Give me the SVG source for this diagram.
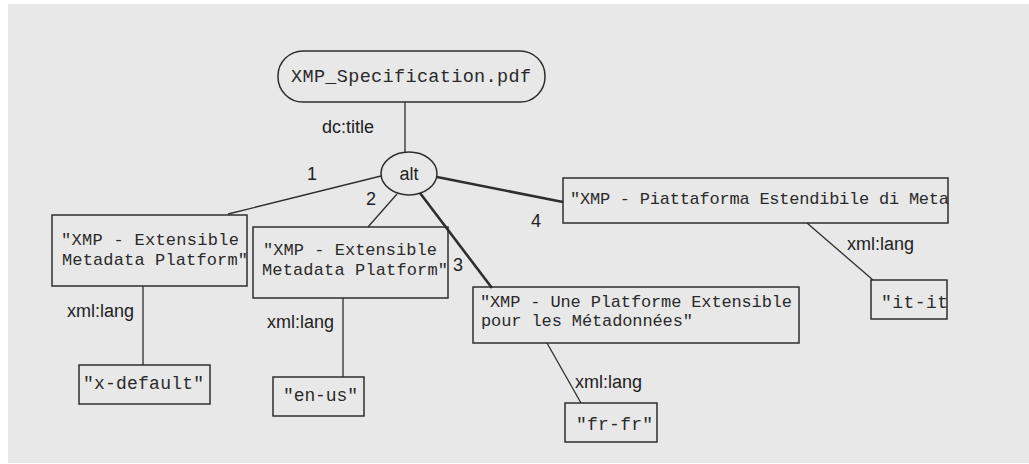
<svg xmlns="http://www.w3.org/2000/svg" width="1029" height="464" viewBox="0 0 1029 464">
  <style>
    .bg { fill: #e8e8e8; }
    .box { fill: none; stroke: #2e2e2e; stroke-width: 1.5; }
    .edge { fill: none; stroke: #2e2e2e; stroke-width: 1.3; }
    .edge.bold { stroke-width: 2.6; }
    .mono { font-family: "Liberation Mono", "Courier New", monospace; font-size: 17px; fill: #2a2a2a; }
    .mono.big { font-size: 18px; }
    .lbl { font-family: "Liberation Sans", Arial, sans-serif; font-size: 18px; fill: #222; }
  </style>

  <rect class="bg" x="8" y="4" width="1021" height="459"/>

  <!-- connectors and their labels -->
  <g id="connectors">
    <line class="edge" x1="405" y1="102" x2="405" y2="152"/>
    <line class="edge" x1="381" y1="176" x2="228" y2="214"/>
    <line class="edge" x1="397" y1="194" x2="368" y2="227"/>
    <line class="edge bold" x1="420" y1="193" x2="492" y2="288"/>
    <line class="edge bold" x1="437" y1="177" x2="563" y2="202"/>
    <line class="edge" x1="143" y1="286" x2="143" y2="365"/>
    <line class="edge" x1="343" y1="298" x2="343" y2="377"/>
    <line class="edge" x1="547" y1="343" x2="581" y2="403"/>
    <line class="edge" x1="807" y1="223" x2="873" y2="280"/>

    <text class="lbl" x="322" y="133">dc:title</text>
    <text class="lbl" x="307" y="180">1</text>
    <text class="lbl" x="366" y="205">2</text>
    <text class="lbl" x="453" y="271">3</text>
    <text class="lbl" x="531" y="227">4</text>
    <text class="lbl" x="67" y="317">xml:lang</text>
    <text class="lbl" x="267" y="328">xml:lang</text>
    <text class="lbl" x="575" y="388">xml:lang</text>
    <text class="lbl" x="847" y="250">xml:lang</text>
  </g>

  <g id="resource">
    <rect class="box" x="278" y="51" width="267" height="51" rx="25" ry="25"/>
    <text class="mono" x="291" y="82" style="font-size:18.5px" textLength="240">XMP_Specification.pdf</text>
  </g>

  <g id="alt">
    <ellipse class="box" cx="409" cy="173.5" rx="28" ry="21.5"/>
    <text class="lbl" x="409" y="180" text-anchor="middle">alt</text>
  </g>

  <g id="item-1">
    <rect class="box" x="52" y="215" width="195" height="71"/>
    <text class="mono" x="61" y="245" textLength="178">"XMP - Extensible</text>
    <text class="mono" x="62" y="265" textLength="186">Metadata Platform"</text>
  </g>

  <g id="item-2">
    <rect class="box" x="253" y="227" width="195" height="71"/>
    <text class="mono" x="263" y="255" textLength="174">"XMP - Extensible</text>
    <text class="mono" x="262" y="275" textLength="186">Metadata Platform"</text>
  </g>

  <g id="item-3">
    <rect class="box" x="473" y="287" width="326" height="56"/>
    <text class="mono" x="480" y="307" textLength="312">"XMP - Une Platforme Extensible</text>
    <text class="mono" x="481" y="326" textLength="212">pour les Métadonnées"</text>
  </g>

  <g id="item-4">
    <rect class="box" x="563" y="178" width="385" height="45"/>
    <text class="mono" x="570" y="204" textLength="379">"XMP - Piattaforma Estendibile di Meta</text>
  </g>

  <g id="lang-1">
    <rect class="box" x="79" y="365" width="131" height="39"/>
    <text class="mono big" x="83" y="389" textLength="121">"x-default"</text>
  </g>

  <g id="lang-2">
    <rect class="box" x="273" y="377" width="91" height="39"/>
    <text class="mono big" x="283" y="401" textLength="75">"en-us"</text>
  </g>

  <g id="lang-3">
    <rect class="box" x="565" y="403" width="92" height="39"/>
    <text class="mono big" x="576" y="430" textLength="77">"fr-fr"</text>
  </g>

  <g id="lang-4">
    <rect class="box" x="871" y="280" width="76" height="39"/>
    <text class="mono big" x="881" y="308" textLength="67">"it-it</text>
  </g>
</svg>
